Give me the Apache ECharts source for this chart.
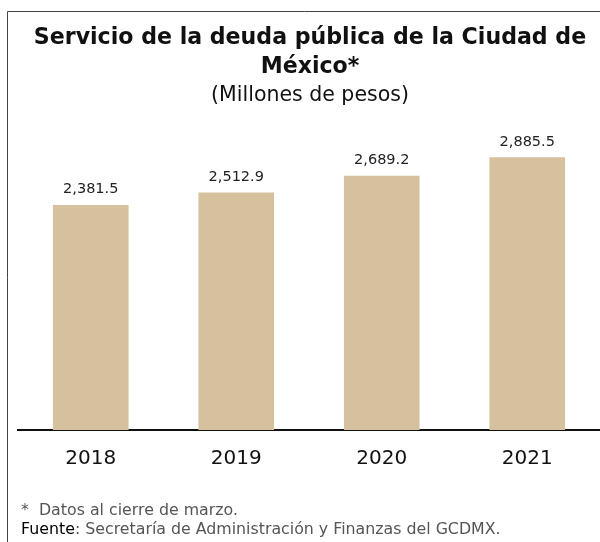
<!DOCTYPE html>
<html><head><meta charset="utf-8">
<script src="https://cdn.jsdelivr.net/npm/echarts@6/dist/echarts.min.js"></script>
<style>html,body{margin:0;padding:0;background:#fff}#c{width:600px;height:542px}</style>
</head><body><div id="c"></div>
<script>
const categories = ['2018', '2019', '2020', '2021'];
const values = [2381.5, 2512.9, 2689.2, 2885.5];
const titleText = 'Servicio de la deuda pública de la Ciudad de\nMéxico*';
const subtitleText = '(Millones de pesos)';
const FONT = '"DejaVu Sans", sans-serif';

const chart = echarts.init(document.getElementById('c'));
chart.setOption({
  backgroundColor: '#fff',
  animation: false,
  title: {
    text: titleText,
    subtext: subtitleText,
    left: 305, top: 19, textAlign: 'center',
    itemGap: 3,
    textStyle: { fontFamily: FONT, fontWeight: 'bold', fontSize: 22.1, color: '#111', lineHeight: 29 },
    subtextStyle: { fontFamily: FONT, fontSize: 20.5, color: '#111' }
  },
  grid: { left: 18, width: 586, top: 146.5, height: 283.5, containLabel: false },
  xAxis: {
    type: 'category', data: categories,
    axisLine: { lineStyle: { color: '#111', width: 2 } },
    axisTick: { show: false },
    axisLabel: { fontFamily: FONT, fontSize: 20, color: '#111', margin: 19 }
  },
  yAxis: { type: 'value', min: 0, max: 3000, show: false, splitLine: { show: false } },
  series: [{
    type: 'bar', data: values, barWidth: '52%',
    itemStyle: { color: '#D5C19D' },
    label: {
      show: true, position: 'top', distance: 8,
      fontFamily: FONT, fontSize: 14.5, color: '#222',
      formatter: p => p.value.toLocaleString('en-US', { minimumFractionDigits: 1, maximumFractionDigits: 1 })
    }
  }],
  graphic: [
    { type: 'rect', shape: { x: 7.5, y: 11.5, width: 700, height: 700 }, style: { fill: null, stroke: '#444', lineWidth: 1 }, silent: true },
    { type: 'line', shape: { x1: 17, y1: 430, x2: 19, y2: 430 }, style: { stroke: '#111', lineWidth: 2 } },
    { type: 'text', left: 21, top: 503, style: { text: '*  Datos al cierre de marzo.', font: '15.8px ' + FONT, fill: '#555' } },
    { type: 'text', left: 21, top: 522, style: {
        text: '{b|Fuente}: Secretaría de Administración y Finanzas del GCDMX.',
        font: '15.8px ' + FONT, fill: '#555',
        rich: { b: { fontFamily: FONT, fontSize: 15.8, fill: '#000', color: '#000' } }
      } }
  ]
});
</script></body></html>
